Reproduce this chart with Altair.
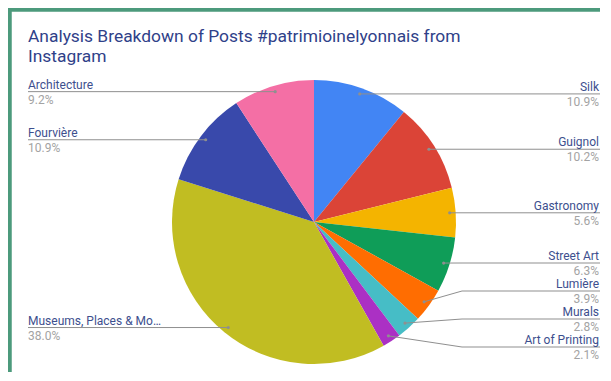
import altair as alt
import pandas as pd
import numpy as np

# ---- data ----
categories = ["Silk", "Guignol", "Gastronomy", "Street Art", "Lumière", "Murals",
              "Art of Printing", "Museums, Places & Monuments", "Fourvière", "Architecture"]
shares = [10.9, 10.2, 5.6, 6.3, 3.9, 2.8, 2.1, 38.0, 10.9, 9.2]
colors = ["#4285f4", "#db4437", "#f4b400", "#0f9d58", "#ff6d01", "#46bdc6",
          "#ab30c4", "#c1bd22", "#3949ab", "#f46fa5"]
title_lines = ["Analysis Breakdown of Posts #patrimioinelyonnais from", "Instagram"]

# ---- layout (pixels, svg coordinates) ----
OFF = 8
W, H = 592, 364
CX, CY = 314 - OFF, 222 - OFF
R = 142
RA = 136
RIGHT_X = 600 - OFF
LEFT_X = 28 - OFF
ELBOW_R = 462 - OFF
ELBOW_L = 165 - OFF
GAP = 28
BOTTOM = 347 - OFF
FONT = "Roboto"
NAME_COLOR = "#3d4f8e"
PCT_COLOR = "#a3a3a3"
LINE_COLOR = "#8f8f8f"
FRAME = "#4c9a7c"

df = pd.DataFrame({"category": categories, "share": shares, "order": range(len(categories))})
total = df["share"].sum()
mid = (df["share"].cumsum() - df["share"] / 2) / total * 2 * np.pi
df["ax"] = CX + RA * np.sin(mid)
df["ay"] = CY - RA * np.cos(mid)
df["side"] = np.where(np.sin(mid) >= 0, "right", "left")
df["pct"] = [f"{v:.1f}%" for v in df["share"]]

# label placement with collision avoidance
df["ly"] = df["ay"]
for side in ["right", "left"]:
    sub = df[df["side"] == side].sort_values("ay")
    idx = list(sub.index)
    ys = list(sub["ay"])
    for i in range(1, len(ys)):
        ys[i] = max(ys[i], ys[i - 1] + GAP)
    ys[-1] = min(ys[-1], BOTTOM)
    for i in range(len(ys) - 2, -1, -1):
        ys[i] = min(ys[i], ys[i + 1] - GAP)
    df.loc[idx, "ly"] = ys
df["tx"] = np.where(df["side"] == "right", RIGHT_X - 1, LEFT_X)

rows = []
for _, r in df.iterrows():
    elbow = ELBOW_R if r["side"] == "right" else ELBOW_L
    end = RIGHT_X if r["side"] == "right" else LEFT_X
    rows.append({"category": r["category"], "step": 0, "x": r["ax"], "y": r["ay"]})
    rows.append({"category": r["category"], "step": 1, "x": elbow, "y": r["ly"]})
    rows.append({"category": r["category"], "step": 2, "x": end, "y": r["ly"]})
lines = pd.DataFrame(rows)

xs = alt.Scale(domain=[0, W], range=[0, W])
ys_ = alt.Scale(domain=[0, H], range=[0, H])

pie = alt.Chart(df).mark_arc(outerRadius=R).encode(
    theta=alt.Theta("share:Q", stack=True),
    color=alt.Color("category:N", scale=alt.Scale(domain=categories, range=colors), legend=None),
    order=alt.Order("order:Q"),
    x=alt.value(CX),
    y=alt.value(CY),
)

leader = alt.Chart(lines).mark_line(color=LINE_COLOR, strokeWidth=1).encode(
    x=alt.X("x:Q", scale=xs, axis=None),
    y=alt.Y("y:Q", scale=ys_, axis=None),
    detail="category:N",
    order="step:Q",
)

dots = alt.Chart(df).mark_circle(size=10, color=LINE_COLOR, opacity=1).encode(
    x=alt.X("ax:Q", scale=xs, axis=None),
    y=alt.Y("ay:Q", scale=ys_, axis=None),
)

def labels(side, align):
    base = alt.Chart(df).transform_filter(alt.datum.side == side)
    name = base.mark_text(align=align, baseline="alphabetic", dy=-3, font=FONT, fontSize=12,
                          color=NAME_COLOR, limit=137).encode(
        x=alt.X("tx:Q", scale=xs, axis=None),
        y=alt.Y("ly:Q", scale=ys_, axis=None),
        text="category:N",
    )
    pct = base.mark_text(align=align, baseline="alphabetic", dy=12, font=FONT, fontSize=12,
                         color=PCT_COLOR).encode(
        x=alt.X("tx:Q", scale=xs, axis=None),
        y=alt.Y("ly:Q", scale=ys_, axis=None),
        text="pct:N",
    )
    return name + pct

tdf = pd.DataFrame({"t": title_lines, "i": range(len(title_lines))})
title = alt.Chart(tdf).transform_calculate(
    ty=f"{42 - OFF} + datum.i * 20"
).mark_text(align="left", baseline="alphabetic", font=FONT, fontSize=17.4,
            color="#2f4189").encode(
    x=alt.value(LEFT_X),
    y=alt.Y("ty:Q", scale=ys_, axis=None),
    text="t:N",
)

frame_top = alt.Chart(tdf).mark_rule(color=FRAME, strokeWidth=3.5).encode(
    x=alt.value(0), x2=alt.value(W + 10), y=alt.value(1.75))
frame_left = alt.Chart(tdf).mark_rule(color=FRAME, strokeWidth=3.5).encode(
    x=alt.value(1.75), y=alt.value(0), y2=alt.value(H + 20))

chart = alt.layer(
    pie, leader, dots, labels("right", "right"), labels("left", "left"), title,
    frame_top, frame_left
).properties(
    width=W, height=H, padding=0, autosize=alt.AutoSizeParams(type="none")
).configure_view(strokeWidth=0).configure(background="white")

chart.save("out.html", embed_options={"renderer": "svg", "actions": False})
